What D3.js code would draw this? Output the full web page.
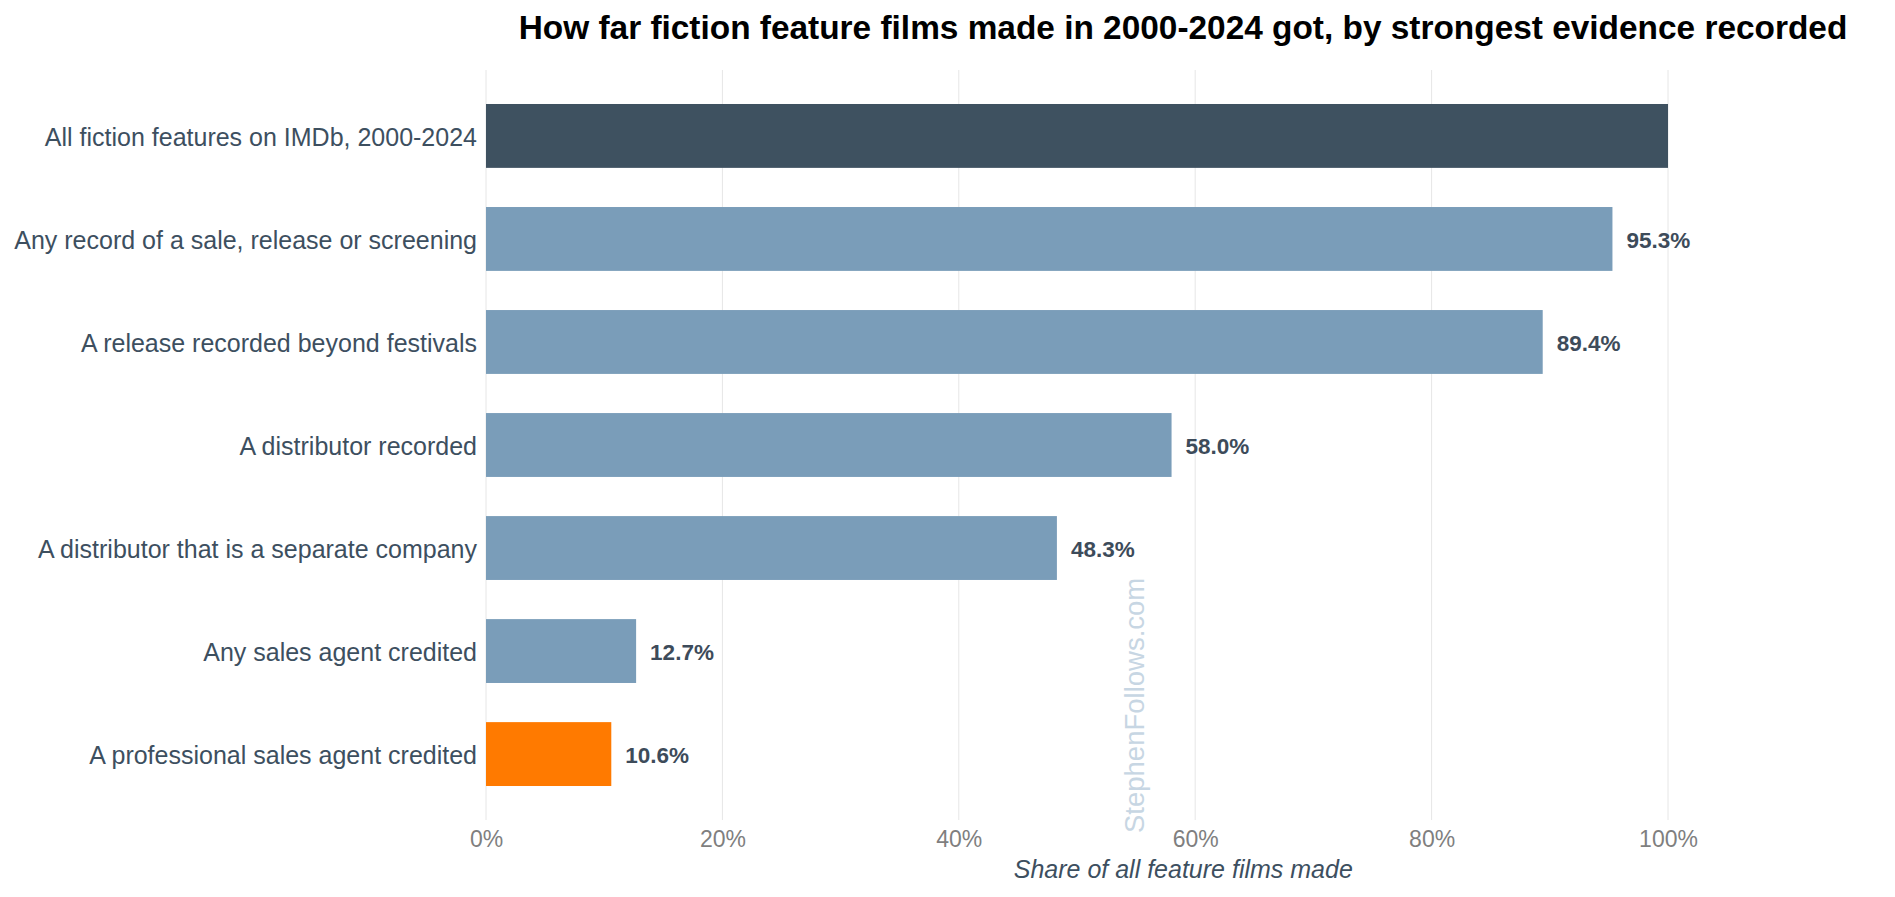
<!DOCTYPE html>
<html><head><meta charset="utf-8">
<script src="https://cdn.jsdelivr.net/npm/d3@7/dist/d3.min.js"></script>
<style>html,body{margin:0;padding:0;background:#fff;}svg{display:block;font-family:"Liberation Sans",Arial,Helvetica,sans-serif;}</style>
</head><body>
<svg id="c" width="1895" height="897"></svg>
<script>
const categories = [
  "All fiction features on IMDb, 2000-2024",
  "Any record of a sale, release or screening",
  "A release recorded beyond festivals",
  "A distributor recorded",
  "A distributor that is a separate company",
  "Any sales agent credited",
  "A professional sales agent credited"
];
const shares = [100, 95.3, 89.4, 58.0, 48.3, 12.7, 10.6];
const xTicks = [0, 20, 40, 60, 80, 100];
const titleText = "How far fiction feature films made in 2000-2024 got, by strongest evidence recorded";
const xTitle = "Share of all feature films made";
const watermark = "StephenFollows.com";

const svg = d3.select("#c");
const plotLeft = 486, plotRight100 = 1668, plotTop = 70, plotBottom = 820;

const rows = categories.map((c, i) => ({ cat: c, v: shares[i], i: i }));

const x = d3.scaleLinear().domain([0, 100]).range([plotLeft, plotRight100]);
const y = d3.scaleBand().domain(categories).range([plotTop, plotBottom]).paddingInner(0.38).paddingOuter(0.33);

// gridlines
svg.append("g").selectAll("line").data(xTicks).join("line")
  .attr("x1", d => x(d)).attr("x2", d => x(d))
  .attr("y1", plotTop).attr("y2", plotBottom)
  .attr("stroke", "#e6e6e6").attr("stroke-width", 1);

// watermark
svg.append("text")
  .attr("transform", "translate(1144,833) rotate(-90)")
  .attr("font-size", 27.5).attr("fill", "#c7d6e3")
  .text(watermark);

// bars
const n = categories.length;
function barColor(i) { return i === 0 ? "#3e5160" : (i === n - 1 ? "#ff7a00" : "#7a9db9"); }
svg.append("g").selectAll("rect").data(rows).join("rect")
  .attr("x", x(0)).attr("y", d => y(d.cat))
  .attr("width", d => x(d.v) - x(0)).attr("height", y.bandwidth())
  .attr("fill", d => barColor(d.i));

// value labels
svg.append("g").selectAll("text").data(rows.slice(1)).join("text")
  .attr("x", d => x(d.v) + 14)
  .attr("y", d => y(d.cat) + y.bandwidth() / 2 + 1)
  .attr("dy", "0.35em")
  .attr("font-size", 22.5).attr("font-weight", "bold").attr("fill", "#3d4b5a")
  .text(d => d.v.toFixed(1) + "%");

// y axis labels
const yAxis = d3.axisLeft(y).tickSize(0).tickPadding(9);
const yg = svg.append("g").attr("transform", `translate(${plotLeft},0)`).call(yAxis);
yg.select(".domain").remove();
yg.selectAll("text").attr("font-size", 25).attr("fill", "#3d4f5f").attr("y", 2)
  .attr("font-family", "Liberation Sans, Arial, sans-serif");

// x axis
const xAxis = d3.axisBottom(x).tickValues(xTicks).tickSize(0).tickPadding(0).tickFormat(d => d + "%");
const xg = svg.append("g").attr("transform", `translate(0,${plotBottom})`).call(xAxis);
xg.select(".domain").remove();
xg.selectAll("text").attr("font-size", 23).attr("fill", "#7f7f7f").attr("dy", null).attr("y", 27)
  .attr("font-family", "Liberation Sans, Arial, sans-serif");

// x axis title
svg.append("text").attr("x", x(59.5) - 6).attr("y", 878).attr("text-anchor", "middle")
  .attr("font-size", 25).attr("font-style", "italic").attr("fill", "#3d4f5f").text(xTitle);

// title
svg.append("text").attr("x", 1183).attr("y", 39).attr("text-anchor", "middle")
  .attr("font-size", 33.4).attr("font-weight", "bold").attr("fill", "#000").text(titleText);
</script>
</body></html>
